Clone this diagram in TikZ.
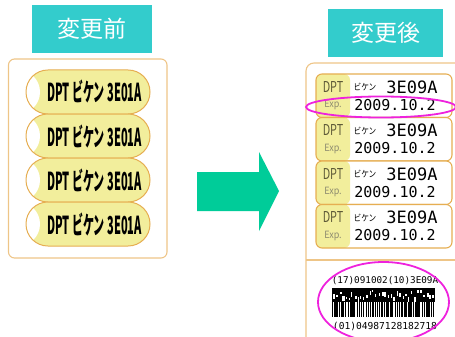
\documentclass[tikz,border=0pt]{standalone}
\usepackage{fontspec}
\newfontfamily\jpfont{Noto Sans CJK JP}
\newfontfamily\monofont{DejaVu Sans Mono}
\usetikzlibrary{positioning,calc}

\definecolor{turquesa}{HTML}{33CCCC}
\definecolor{verdeflecha}{HTML}{00CC99}
\definecolor{naranja}{HTML}{E6AE52}
\definecolor{naranjaclaro}{HTML}{EEC587}
\definecolor{amarillo}{HTML}{F2EE9C}
\definecolor{rosa}{HTML}{EE22DD}
\definecolor{oliva}{HTML}{5E5A38}
\definecolor{grisexp}{HTML}{8E8C70}

\begin{document}
\begin{tikzpicture}[x=1pt, y=-1pt,
    titulo/.style={fill=turquesa, text=white, minimum width=120pt,
        minimum height=48pt, inner sep=0pt,
        font=\jpfont\fontsize{23}{23}\selectfont},
    pildora/.style={draw=naranja, line width=1pt, fill=amarillo,
        rounded corners=21.9pt, minimum width=124pt, minimum height=44pt,
        inner sep=0pt, outer sep=0pt,
        path picture={\fill[white] (path picture bounding box.north west)
            rectangle ([xshift=14pt]path picture bounding box.south west);},
        font=\jpfont\bfseries\fontsize{24}{24}\selectfont},
    tarjeta/.style={draw=naranja, line width=1.1pt, fill=white,
        rounded corners=6pt, minimum width=136pt, minimum height=43.5pt,
        inner sep=0pt, outer sep=0pt,
        path picture={\fill[amarillo] (path picture bounding box.north west)
            rectangle ([xshift=34pt]path picture bounding box.south west);}},
    marco/.style={draw=naranjaclaro, line width=1.1pt},
    ovalo/.style={draw=rosa, line width=1.8pt},
    node distance=0pt
    ]
    \useasboundingbox (0,0) rectangle (455,337);
    \clip (0,0) rectangle (455,337);

    % antes
    \node[titulo] (antes) at (92,29) {変更前};
    \draw[marco, rounded corners=6pt] (8.5,59) rectangle (167,258);
    \node[pildora] (p1) at (88,92)
        {\hspace*{13pt}\scalebox{0.46}[1.03]{DPT ビケン 3E01A}};
    \foreach \n [remember=\n as \m (initially 1)] in {2,3,4}
        \node[pildora, below=of p\m] (p\n)
            {\hspace*{13pt}\scalebox{0.46}[1.03]{DPT ビケン 3E01A}};

    % flecha
    \fill[verdeflecha] (197,172) -- (259,172) -- (259,152) -- (279,191)
        -- (259,231) -- (259,211) -- (197,211) -- cycle;

    % despues
    \node[titulo, minimum width=115pt] (despues) at (385.5,33) {変更後};
    \draw[marco, rounded corners=8pt] (306,345) -- (306,63) -- (470,63);
    \draw[marco] (306,260) -- (470,260);
    \foreach \n/\y in {1/74,2/117.5,3/161,4/204.5} {
        \node[tarjeta] (t\n) at (384,\y+21.75) {};
        \node[text=oliva, font=\jpfont\fontsize{15}{15}\selectfont]
            (dpt\n) at ($(t\n.north west)+(17,13)$) {\scalebox{0.72}[1]{DPT}};
        \node[text=grisexp, font=\jpfont\fontsize{10}{10}\selectfont]
            (exp\n) at ($(t\n.north west)+(17,31)$) {\scalebox{0.9}[1]{Exp.}};
        \node[font=\jpfont\fontsize{9}{9}\selectfont]
            (bk\n) at ($(t\n.north west)+(49,13)$) {\scalebox{0.85}[1]{ビケン}};
        \node[font=\monofont\fontsize{17}{17}\selectfont]
            (lote\n) at ($(t\n.north west)+(96,13)$) {3E09A};
        \node[font=\monofont\fontsize{15}{15}\selectfont]
            (fecha\n) at ($(t\n.north west)+(79,31)$) {2009.10.2};
    }
    \draw[ovalo] (381,107) ellipse [x radius=75, y radius=10.5];

    % codigo de barras
    \node[font=\monofont\fontsize{9.3}{9.3}\selectfont] (cod1) at (385,281)
        {(17)091002(10)3E09A};
    \node[font=\monofont\fontsize{9.6}{9.6}\selectfont] (cod2) at (385,326)
        {(01)04987128182718};
    \fill (332,288) rectangle (435,302);
    \pgfmathsetseed{7}
    \foreach \i in {0,...,33}
        \fill[white] (333+3*\i+rnd,290+8*rnd) rectangle ++(0.8+1.4*rnd,2+3*rnd);
    \foreach \i in {0,...,45}
        \fill (332+2.24*\i,302) rectangle ++(0.5+1.4*rnd,15);
    \draw[ovalo] (383.5,302) ellipse [x radius=65.5, y radius=40];
\end{tikzpicture}
\end{document}
